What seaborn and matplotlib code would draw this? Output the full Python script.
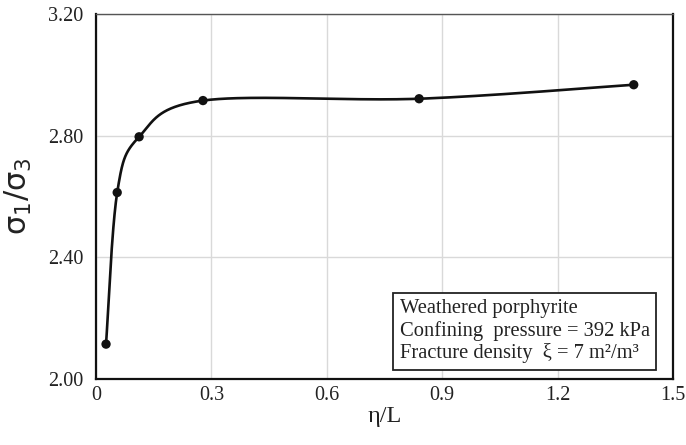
import numpy as np
import pandas as pd
import matplotlib
matplotlib.use("Agg")
import matplotlib.pyplot as plt
import seaborn as sns

# values
eta_over_L = [0.026, 0.055, 0.112, 0.278, 0.840, 1.398]
stress_ratio = [2.115, 2.613, 2.796, 2.915, 2.921, 2.967]

x_ticks = [0, 0.3, 0.6, 0.9, 1.2, 1.5]
x_tick_labels = ["0", "0.3", "0.6", "0.9", "1.2", "1.5"]
y_ticks = [2.00, 2.40, 2.80, 3.20]
y_tick_labels = ["2.00", "2.40", "2.80", "3.20"]

info_lines = [
    "Weathered porphyrite",
    "Confining  pressure = 392 kPa",
    "Fracture density  \u03be = 7 m\u00b2/m\u00b3",
]


def smooth_line(x, y, n=60):
    # Excel-style smoothed line: Catmull-Rom control points joined by cubic Beziers
    p = np.column_stack([x, y])
    p = np.vstack([p[0], p, p[-1]])
    out = []
    t = np.linspace(0, 1, n)[:, None]
    for i in range(1, len(p) - 2):
        p0, p3 = p[i], p[i + 1]
        c1 = p0 + (p[i + 1] - p[i - 1]) / 6
        c2 = p3 - (p[i + 2] - p[i]) / 6
        seg = ((1 - t) ** 3) * p0 + 3 * ((1 - t) ** 2) * t * c1 + 3 * (1 - t) * t ** 2 * c2 + t ** 3 * p3
        out.append(seg if i == 1 else seg[1:])
    out = np.vstack(out)
    return out[:, 0], out[:, 1]


sns.set_theme(style="white")
plt.rcParams["font.family"] = ["Liberation Serif", "DejaVu Serif"]
plt.rcParams["mathtext.fontset"] = "dejavusans"

fig = plt.figure(figsize=(6.86, 4.45), dpi=100)
ax = fig.add_axes([0.140, 0.148, 0.841, 0.821])

xs, ys = smooth_line(eta_over_L, stress_ratio)
curve = pd.DataFrame({"eta": xs, "ratio": ys})
pts = pd.DataFrame({"eta": eta_over_L, "ratio": stress_ratio})

sns.lineplot(data=curve, x="eta", y="ratio", sort=False, estimator=None,
             color="#111111", linewidth=1.9, ax=ax, zorder=3)
sns.scatterplot(data=pts, x="eta", y="ratio", color="#111111", s=45,
                edgecolor="none", ax=ax, zorder=4)

ax.set_xlim(0, 1.5)
ax.set_ylim(2.0, 3.2)
ax.set_xticks(x_ticks)
ax.set_xticklabels(x_tick_labels)
ax.set_yticks(y_ticks)
ax.set_yticklabels(y_tick_labels)
ax.tick_params(axis="both", length=0, labelsize=14.5, colors="#222222")
ax.tick_params(axis="y", pad=9)
ax.tick_params(axis="x", pad=5)

ax.grid(True, color="#d9d9d9", linewidth=1.0)
ax.set_axisbelow(True)

for side in ["left", "bottom", "right"]:
    ax.spines[side].set_color("#111111")
    ax.spines[side].set_linewidth(1.6)
ax.spines["top"].set_color("#555555")
ax.spines["top"].set_linewidth(1.0)

ax.set_xlabel("\u03b7/L", fontsize=17.5, labelpad=1, color="#222222")
ax.set_ylabel(r"$\mathrm{\sigma_1/\sigma_3}$", fontsize=22, labelpad=10,
              color="#222222", family="DejaVu Sans")

ax.text(0.526, 0.131, "\n".join(info_lines), transform=ax.transAxes,
        fontsize=14.8, color="#222222", va="center", ha="left", linespacing=1.18,
        bbox=dict(boxstyle="square,pad=0.3", facecolor="white",
                  edgecolor="#222222", linewidth=1.3), zorder=5)

fig.savefig("out.png", dpi=100)
